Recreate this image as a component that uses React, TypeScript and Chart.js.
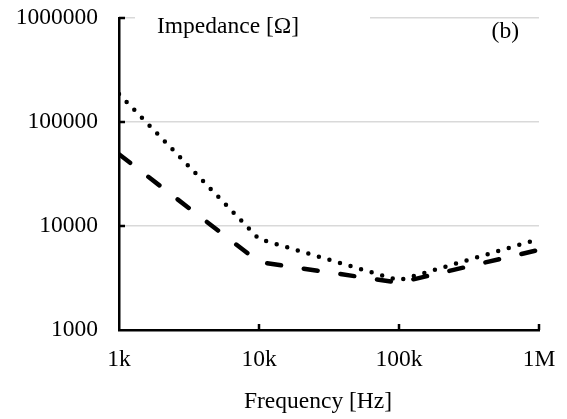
import React, { useEffect, useRef } from "react";
import { Chart, registerables } from "chart.js";

Chart.register(...registerables);

const frequencies = [1000, 10000, 100000, 1000000];
const xTickLabels = ["1k", "10k", "100k", "1M"];
const yTickValues = [1000, 10000, 100000, 1000000];
const dottedSeries = [186000, 7500, 3000, 7500];
const dashedSeries = [49000, 4500, 2850, 5900];

const yTitle = "Impedance [Ω]";
const xTitle = "Frequency [Hz]";
const panelLabel = "(b)";

const FONT = "'Liberation Serif', 'Times New Roman', serif";
const FONT_SIZE = 23.5;

const overlayPlugin = {
  id: "overlay",
  afterDraw(chart: any) {
    const { ctx, chartArea, scales } = chart;
    const xs = scales.x;
    const ys = scales.y;
    ctx.save();
    // break in the top gridline behind the y title
    const topY = ys.getPixelForValue(1000000);
    ctx.fillStyle = "#ffffff";
    ctx.fillRect(chartArea.left + 16, topY - 3, 235, 6);
    // inward ticks
    ctx.strokeStyle = "#000";
    ctx.lineWidth = 2.5;
    ctx.beginPath();
    frequencies.forEach((f, i) => {
      if (i === 0) return;
      const px = xs.getPixelForValue(f);
      ctx.moveTo(px, chartArea.bottom);
      ctx.lineTo(px, chartArea.bottom - 6);
    });
    yTickValues.forEach((v, i) => {
      if (i === 0) return;
      const py = ys.getPixelForValue(v);
      ctx.moveTo(chartArea.left, py);
      ctx.lineTo(chartArea.left + 6, py);
    });
    ctx.stroke();
    // texts
    ctx.fillStyle = "#000";
    ctx.font = `${FONT_SIZE}px ${FONT}`;
    ctx.textBaseline = "alphabetic";
    ctx.textAlign = "left";
    ctx.fillText(yTitle, 157, 33);
    ctx.textAlign = "right";
    ctx.fillText(panelLabel, 519, 38);
    ctx.textAlign = "center";
    ctx.fillText(xTitle, 318, 408);
    ctx.restore();
  },
};

export default function App() {
  const canvasRef = useRef<HTMLCanvasElement | null>(null);

  useEffect(() => {
    if (!canvasRef.current) return;
    const chart = new Chart(canvasRef.current, {
      type: "line",
      data: {
        datasets: [
          {
            label: "dotted",
            data: frequencies.map((f, i) => ({ x: f, y: dottedSeries[i] })),
            borderColor: "#000",
            borderWidth: 4.5,
            borderDash: [0, 11],
            borderCapStyle: "round",
            pointRadius: 0,
            tension: 0,
            fill: false,
          },
          {
            label: "dashed",
            data: frequencies.map((f, i) => ({ x: f, y: dashedSeries[i] })),
            borderColor: "#000",
            borderWidth: 4.5,
            borderDash: [14, 23],
            borderCapStyle: "round",
            pointRadius: 0,
            tension: 0,
            fill: false,
          },
        ],
      },
      options: {
        animation: false,
        responsive: false,
        maintainAspectRatio: false,
        layout: { padding: { left: 0, top: 18, right: 28, bottom: 0 } },
        plugins: {
          legend: { display: false },
          title: { display: false },
          tooltip: { enabled: false },
        },
        scales: {
          x: {
            type: "logarithmic",
            min: 1000,
            max: 1000000,
            grid: { display: false, drawTicks: false },
            border: { display: true, color: "#000", width: 2.5 },
            afterBuildTicks: (scale: any) => {
              scale.ticks = frequencies.map((v) => ({ value: v }));
            },
            afterFit: (scale: any) => {
              scale.height = 89;
              scale.paddingLeft = 0;
              scale.paddingRight = 0;
            },
            ticks: {
              autoSkip: false,
              maxRotation: 0,
              minRotation: 0,
              padding: 16,
              color: "#000",
              font: { family: FONT, size: FONT_SIZE },
              callback: (value: any) => {
                const idx = frequencies.indexOf(Number(value));
                return idx >= 0 ? xTickLabels[idx] : "";
              },
            },
          },
          y: {
            type: "logarithmic",
            min: 1000,
            max: 1000000,
            grid: { display: true, color: "#d9d9d9", lineWidth: 1.5, drawTicks: false },
            border: { display: true, color: "#000", width: 2.5 },
            afterBuildTicks: (scale: any) => {
              scale.ticks = yTickValues.map((v) => ({ value: v }));
            },
            afterFit: (scale: any) => {
              scale.width = 119;
              scale.paddingTop = 0;
              scale.paddingBottom = 0;
            },
            ticks: {
              autoSkip: false,
              padding: 21,
              color: "#000",
              font: { family: FONT, size: FONT_SIZE },
              callback: (value: any) => String(value),
            },
          },
        },
      },
      plugins: [overlayPlugin],
    });
    return () => chart.destroy();
  }, []);

  return (
    <div style={{ position: "absolute", left: 0, top: 0, width: 567, height: 419, background: "#fff" }}>
      <canvas ref={canvasRef} width={567} height={419} style={{ display: "block" }} />
    </div>
  );
}
